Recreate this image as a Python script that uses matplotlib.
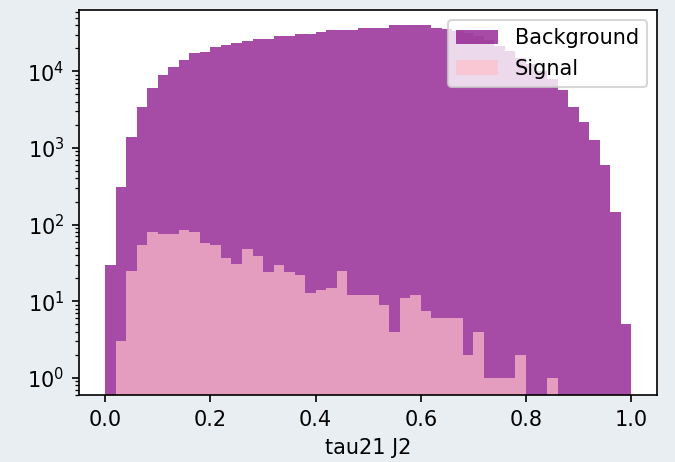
import numpy as np
import matplotlib
matplotlib.use("Agg")
import matplotlib.pyplot as plt

bin_edges = np.linspace(0.0, 1.0, 51)

background_counts = [
    30, 312, 1400, 3380, 6100, 8900, 11500, 14000, 17100, 17900,
    20500, 22200, 23500, 25100, 26400, 26400, 28500, 28500, 30200, 30200,
    32200, 34800, 34800, 34800, 36900, 36900, 36900, 39800, 39800, 39800,
    39800, 36900, 35000, 33500, 31500, 29000, 25500, 21100, 18200, 14800,
    12500, 10000, 7800, 5700, 3380, 2160, 1270, 598, 145, 5,
]

signal_counts = [
    0, 3, 25, 54, 79, 75, 75, 85, 79, 58,
    54, 37, 31, 48, 39, 24, 30, 24, 22, 13,
    14, 15, 25, 12, 12, 12, 9, 4, 11, 12,
    7.5, 6, 6, 6, 2, 4, 1, 1, 1, 2,
    0, 0, 1, 0, 0, 0, 0, 0, 0, 0,
]

xlabel = "tau21 J2"
labels = ["Background", "Signal"]

centers = 0.5 * (bin_edges[:-1] + bin_edges[1:])

fig = plt.figure(figsize=(4.5, 3.08), dpi=150, facecolor="#e9eef2")
ax = fig.add_axes([0.117, 0.145, 0.857, 0.834])
ax.set_facecolor("white")

ax.hist(centers, bins=bin_edges, weights=background_counts, alpha=0.7,
        color="purple", label=labels[0], log=True)
ax.hist(centers, bins=bin_edges, weights=signal_counts, alpha=0.7,
        color="pink", label=labels[1], log=True)

ax.set_yscale("log")
ax.set_xlim(-0.05, 1.05)
ax.set_ylim(10 ** -0.222, 10 ** 4.802)
ax.set_xticks([0.0, 0.2, 0.4, 0.6, 0.8, 1.0])
ax.set_xlabel(xlabel)
ax.legend(loc="upper right")

fig.savefig("out.png", dpi=150, facecolor=fig.get_facecolor())
